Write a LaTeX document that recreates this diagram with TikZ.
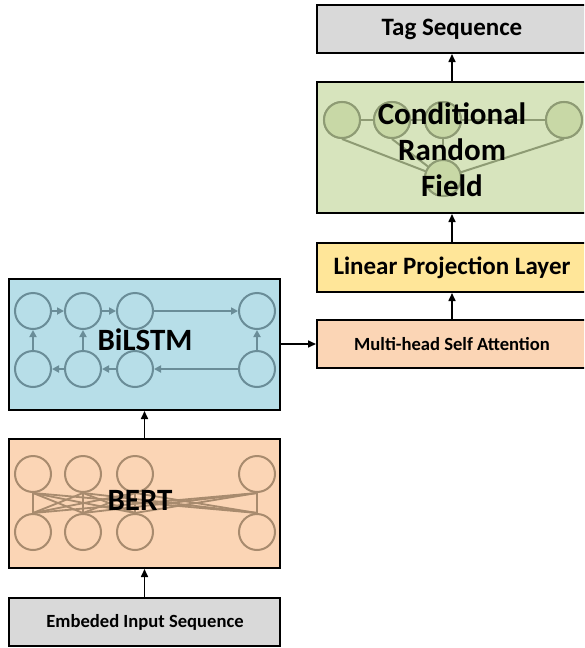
\documentclass[tikz,border=0pt]{standalone}
\usepackage{fontspec}
\setmainfont{Carlito}
\usetikzlibrary{arrows.meta}
\definecolor{greyfill}{HTML}{D9D9D9}
\definecolor{crffill}{HTML}{D7E4BD}
\definecolor{crfcirc}{HTML}{C8D8A6}
\definecolor{crfline}{HTML}{8E9B74}
\definecolor{linfill}{HTML}{FFE699}
\definecolor{peach}{HTML}{FBD5B5}
\definecolor{bertline}{HTML}{A88B6E}
\definecolor{lstmfill}{HTML}{B7DEE8}
\definecolor{lstmline}{HTML}{6A8D98}
\begin{document}
\begin{tikzpicture}[x=1pt,y=-1pt,
  box/.style={draw=black, line width=2pt, inner sep=0pt},
  flow/.style={draw=black, line width=1.6pt, -{Triangle[length=8pt,width=7pt]}},
  lstmc/.style={circle, draw=lstmline, line width=2pt, minimum size=36pt, inner sep=0pt},
  bertc/.style={circle, draw=bertline, line width=2pt, minimum size=36pt, inner sep=0pt},
  crfc/.style={circle, draw=crfline, fill=crfcirc, line width=2pt, minimum size=36pt, inner sep=0pt},
  lstmarrow/.style={draw=lstmline, line width=2pt, -{Triangle[length=7pt,width=7pt]}},
  bertedge/.style={draw=bertline, line width=1.8pt},
  crfedge/.style={draw=crfline, line width=2pt},
  big/.style={font=\fontsize{31}{36}\selectfont\bfseries, align=center},
  mid/.style={font=\fontsize{25}{30}\selectfont\bfseries},
  small/.style={font=\fontsize{18.6}{22}\selectfont\bfseries}
]
\useasboundingbox (0,0) rectangle (584,648);
\clip (0,0) rectangle (584,648);

% boxes
\node[box, fill=greyfill, minimum width=270pt, minimum height=48pt] (tag) at (452,29) {};
\node[box, fill=crffill, minimum width=270pt, minimum height=131pt] (crf) at (452,147.5) {};
\node[box, fill=linfill, minimum width=270pt, minimum height=49pt] (lin) at (452,267.5) {};
\node[box, fill=peach, minimum width=270pt, minimum height=48pt] (mha) at (452,344) {};
\node[box, fill=lstmfill, minimum width=271pt, minimum height=131pt] (lstm) at (144.5,344.5) {};
\node[box, fill=peach, minimum width=271pt, minimum height=129pt] (bert) at (144.5,503.5) {};
\node[box, fill=greyfill, minimum width=271pt, minimum height=48pt] (emb) at (144.5,622) {};

% BiLSTM circles
\foreach \i/\x in {1/33,2/83,3/135,4/257}{
  \node[lstmc] (lt\i) at (\x,311) {};
  \node[lstmc] (lb\i) at (\x,369) {};
}
\draw[lstmarrow] (lt1) -- (lt2);
\draw[lstmarrow] (lt2) -- (lt3);
\draw[lstmarrow] (lt3) -- (lt4);
\draw[lstmarrow] (lb4) -- (lb3);
\draw[lstmarrow] (lb3) -- (lb2);
\draw[lstmarrow] (lb2) -- (lb1);
\draw[lstmarrow] (lb1) -- (lt1);
\draw[lstmarrow] (lb2) -- (lt2);
\draw[lstmarrow] (lb4) -- (lt4);

% BERT circles
\foreach \i/\x in {1/33,2/83,3/135,4/257}{
  \node[bertc] (bt\i) at (\x,474) {};
  \node[bertc] (bb\i) at (\x,532) {};
}
\foreach \i in {1,2,3,4}{
  \foreach \j in {1,2,3,4}{
    \draw[bertedge] (bt\i.south) -- (bb\j.north);
  }
}

% CRF circles
\foreach \i/\x in {1/342,2/392,3/443,4/564}{
  \node[crfc] (ct\i) at (\x,120) {};
}
\node[crfc] (cb) at (443,178) {};
\draw[crfedge] (ct1) -- (ct2);
\draw[crfedge] (ct2) -- (ct3);
\draw[crfedge] (ct3) -- (ct4);
\draw[crfedge] (ct1.south) -- (cb);
\draw[crfedge] (ct2.south) -- (cb);
\draw[crfedge] (ct3) -- (cb);
\draw[crfedge] (ct4.south) -- (cb);
\foreach \i in {1,2,3,4}{\node[crfc] at (ct\i) {};}
\node[crfc] at (cb) {};

% labels
\node[mid] (tagl) at (452,29) {Tag Sequence};
\node[big] (crfl) at (452,150) {Conditional\\Random\\Field};
\node[mid] (linl) at (452,267.5) {Linear Projection Layer};
\node[small] (mhal) at (452,344) {Multi-head Self Attention};
\node[big] (lstml) at (145,340) {BiLSTM};
\node[big] (bertl) at (140,500) {BERT};
\node[small] (embl) at (145,622) {Embeded Input Sequence};

% flow arrows
\draw[flow] (emb) -- (bert);
\draw[flow] (bert) -- (lstm);
\draw[flow] (lstm.east |- mha) -- (mha);
\draw[flow] (mha) -- (lin);
\draw[flow] (lin) -- (crf);
\draw[flow] (crf) -- (tag);
\end{tikzpicture}
\end{document}
